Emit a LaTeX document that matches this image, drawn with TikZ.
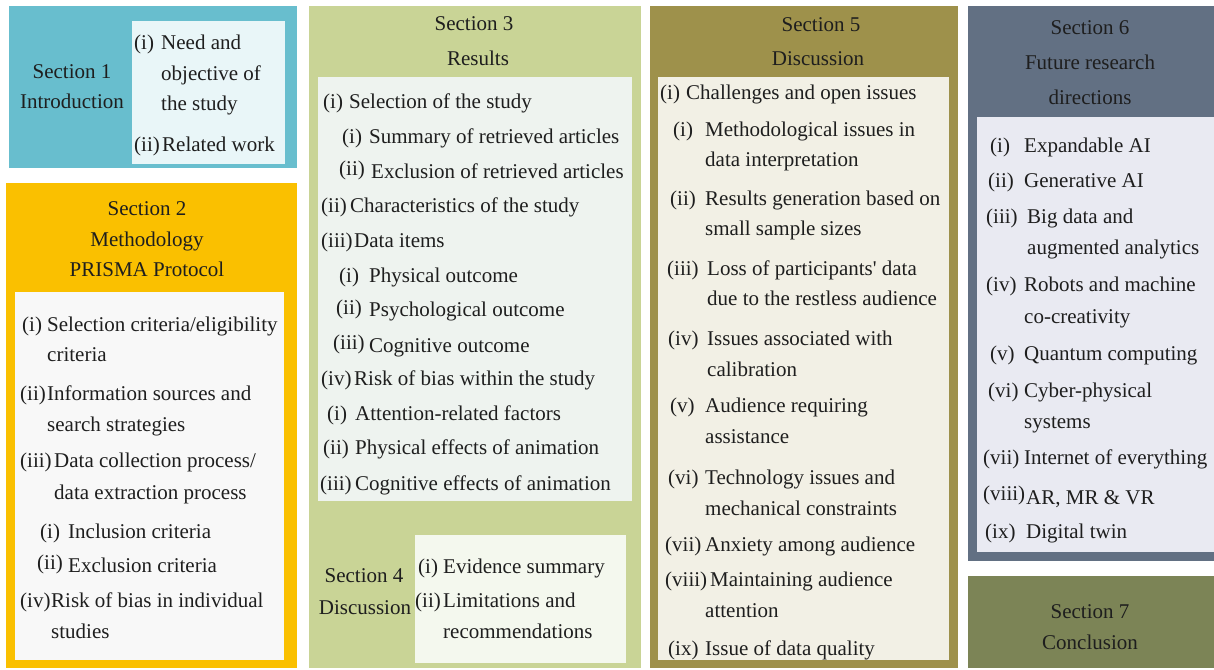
\documentclass[tikz,border=0pt]{standalone}
\usepackage{fontspec}
\setmainfont{Liberation Serif}
\definecolor{txt}{HTML}{1E1E1E}
\definecolor{cteal}{HTML}{68BECE}
\definecolor{cteali}{HTML}{E9F6F8}
\definecolor{cyel}{HTML}{FAC000}
\definecolor{cyeli}{HTML}{F8F8F8}
\definecolor{cgrn}{HTML}{C9D496}
\definecolor{cgrni}{HTML}{EEF3EF}
\definecolor{cgrnj}{HTML}{F4F8EE}
\definecolor{colv}{HTML}{9E914B}
\definecolor{colvi}{HTML}{F2F0E5}
\definecolor{cslt}{HTML}{627083}
\definecolor{cslti}{HTML}{E9EAF2}
\definecolor{cfin}{HTML}{7C8456}
\begin{document}
\begin{tikzpicture}[x=1pt,y=-1pt,
  tx/.style={anchor=base west,inner sep=0pt,font=\fontsize{21}{25}\selectfont,text=txt},
  hd/.style={anchor=base,inner sep=0pt,font=\fontsize{21}{25}\selectfont,text=txt}]
\fill[white] (0,0) rectangle (1214,669);
% boxes
\fill[cteal] (9,6) rectangle (297,168);
\fill[cteali] (132,21) rectangle (285,164);
\fill[cyel] (6,183) rectangle (297,668);
\fill[cyeli] (15,292) rectangle (284,660);
\fill[cgrn] (309,6) rectangle (641,668);
\fill[cgrni] (318,77) rectangle (632,501);
\fill[cgrnj] (415,535) rectangle (626,663);
\fill[colv] (650,6) rectangle (958,668);
\fill[colvi] (658,77) rectangle (949,660);
\fill[cslt] (968,6) rectangle (1214,561);
\fill[cslti] (977,117) rectangle (1214,552);
\fill[cfin] (968,576) rectangle (1214,668);
% Section 1
\node[hd] (s1t1) at (72,78) {Section 1};
\node[hd] (s1t2) at (72,108) {Introduction};
\node[tx] (s1n1) at (134,50) {(i)};
\node[tx] (s1a1) at (161,50) {Need and};
\node[tx] (s1a2) at (161,80) {objective of};
\node[tx] (s1a3) at (161,110) {the study};
\node[tx] (s1n2) at (134,151) {(ii)};
\node[tx] (s1b1) at (162,151) {Related work};
% Section 2
\node[hd] (s2t1) at (147,215) {Section 2};
\node[hd] (s2t2) at (147,246) {Methodology};
\node[hd] (s2t3) at (147,276) {PRISMA Protocol};
\node[tx] (s2n1) at (22,331) {(i)};
\node[tx] (s2a1) at (47,331) {Selection criteria/eligibility};
\node[tx] (s2a2) at (47,361) {criteria};
\node[tx] (s2n2) at (20,400) {(ii)};
\node[tx] (s2b1) at (47,400) {Information sources and};
\node[tx] (s2b2) at (47,431) {search strategies};
\node[tx] (s2n3) at (20,467) {(iii)};
\node[tx] (s2c1) at (54,467) {Data collection process/};
\node[tx] (s2c2) at (54,499) {data extraction process};
\node[tx] (s2n4) at (40,538) {(i)};
\node[tx] (s2d1) at (68,538) {Inclusion criteria};
\node[tx] (s2n5) at (37,569) {(ii)};
\node[tx] (s2e1) at (68,572) {Exclusion criteria};
\node[tx] (s2n6) at (20,607) {(iv)};
\node[tx] (s2f1) at (51,607) {Risk of bias in individual};
\node[tx] (s2f2) at (51,638) {studies};
% Section 3
\node[hd] (s3t1) at (474,31) {Section 3};
\node[hd] (s3t2) at (478,65) {Results};
\node[tx] (s3n1) at (323,108) {(i)};
\node[tx] (s3a) at (349,108) {Selection of the study};
\node[tx] (s3n2) at (342,143) {(i)};
\node[tx] (s3b) at (369,143) {Summary of retrieved articles};
\node[tx] (s3n3) at (339,175) {(ii)};
\node[tx] (s3c) at (371,178) {Exclusion of retrieved articles};
\node[tx] (s3n4) at (321,212) {(ii)};
\node[tx] (s3d) at (350,212) {Characteristics of the study};
\node[tx] (s3n5) at (321,247) {(iii)};
\node[tx] (s3e) at (354,247) {Data items};
\node[tx] (s3n6) at (339,282) {(i)};
\node[tx] (s3f) at (369,282) {Physical outcome};
\node[tx] (s3n7) at (336,314) {(ii)};
\node[tx] (s3g) at (369,316) {Psychological outcome};
\node[tx] (s3n8) at (333,349) {(iii)};
\node[tx] (s3h) at (369,352) {Cognitive outcome};
\node[tx] (s3n9) at (321,385) {(iv)};
\node[tx] (s3i) at (354,385) {Risk of bias within the study};
\node[tx] (s3n10) at (327,420) {(i)};
\node[tx] (s3j) at (355,420) {Attention-related factors};
\node[tx] (s3n11) at (323,454) {(ii)};
\node[tx] (s3k) at (355,454) {Physical effects of animation};
\node[tx] (s3n12) at (320,490) {(iii)};
\node[tx] (s3l) at (355,490) {Cognitive effects of animation};
% Section 4
\node[hd] (s4t1) at (364,582) {Section 4};
\node[hd] (s4t2) at (365,614) {Discussion};
\node[tx] (s4n1) at (418,573) {(i)};
\node[tx] (s4a) at (443,573) {Evidence summary};
\node[tx] (s4n2) at (415,607) {(ii)};
\node[tx] (s4b1) at (443,607) {Limitations and};
\node[tx] (s4b2) at (443,638) {recommendations};
% Section 5
\node[hd] (s5t1) at (821,32) {Section 5};
\node[hd] (s5t2) at (818,65) {Discussion};
\node[tx] (s5n0) at (660,99) {(i)};
\node[tx] (s5a) at (686,99) {Challenges and open issues};
\node[tx] (s5n1) at (673,136) {(i)};
\node[tx] (s5b1) at (705,136) {Methodological issues in};
\node[tx] (s5b2) at (705,166) {data interpretation};
\node[tx] (s5n2) at (670,205) {(ii)};
\node[tx] (s5c1) at (705,205) {Results generation based on};
\node[tx] (s5c2) at (705,235) {small sample sizes};
\node[tx] (s5n3) at (667,275) {(iii)};
\node[tx] (s5d1) at (707,275) {Loss of participants\textquotesingle\ data};
\node[tx] (s5d2) at (707,305) {due to the restless audience};
\node[tx] (s5n4) at (668,345) {(iv)};
\node[tx] (s5e1) at (707,345) {Issues associated with};
\node[tx] (s5e2) at (707,376) {calibration};
\node[tx] (s5n5) at (670,412) {(v)};
\node[tx] (s5f1) at (705,412) {Audience requiring};
\node[tx] (s5f2) at (705,443) {assistance};
\node[tx] (s5n6) at (668,484) {(vi)};
\node[tx] (s5g1) at (705,484) {Technology issues and};
\node[tx] (s5g2) at (705,515) {mechanical constraints};
\node[tx] (s5n7) at (665,551) {(vii)};
\node[tx] (s5h) at (705,551) {Anxiety among audience};
\node[tx] (s5n8) at (665,586) {(viii)};
\node[tx] (s5i1) at (710,586) {Maintaining audience};
\node[tx] (s5i2) at (705,617) {attention};
\node[tx] (s5n9) at (668,655) {(ix)};
\node[tx] (s5j) at (705,655) {Issue of data quality};
% Section 6
\node[hd] (s6t1) at (1090,35) {Section 6};
\node[hd] (s6t2) at (1090,70) {Future research};
\node[hd] (s6t3) at (1090,104) {directions};
\node[tx] (s6n1) at (990,152) {(i)};
\node[tx] (s6a) at (1024,152) {Expandable AI};
\node[tx] (s6n2) at (988,187) {(ii)};
\node[tx] (s6b) at (1024,187) {Generative AI};
\node[tx] (s6n3) at (986,223) {(iii)};
\node[tx] (s6c1) at (1027,223) {Big data and};
\node[tx] (s6c2) at (1027,254) {augmented analytics};
\node[tx] (s6n4) at (986,291) {(iv)};
\node[tx] (s6d1) at (1024,291) {Robots and machine};
\node[tx] (s6d2) at (1024,323) {co-creativity};
\node[tx] (s6n5) at (990,360) {(v)};
\node[tx] (s6e) at (1024,360) {Quantum computing};
\node[tx] (s6n6) at (988,397) {(vi)};
\node[tx] (s6f1) at (1024,397) {Cyber-physical};
\node[tx] (s6f2) at (1024,428) {systems};
\node[tx] (s6n7) at (983,464) {(vii)};
\node[tx] (s6g) at (1024,464) {Internet of everything};
\node[tx] (s6n8) at (983,500) {(viii)};
\node[tx] (s6h) at (1026,504) {AR, MR \& VR};
\node[tx] (s6n9) at (985,538) {(ix)};
\node[tx] (s6i) at (1026,538) {Digital twin};
% Section 7
\node[hd] (s7t1) at (1090,618) {Section 7};
\node[hd] (s7t2) at (1090,649) {Conclusion};
\end{tikzpicture}
\end{document}
